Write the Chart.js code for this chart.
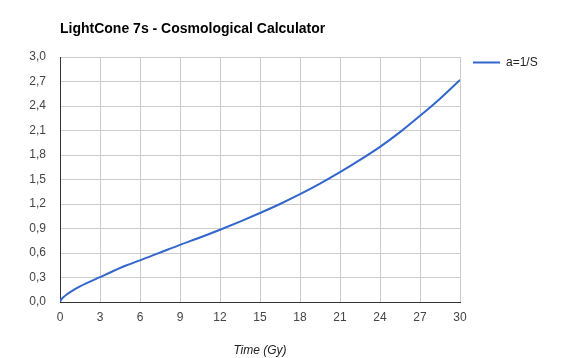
<!DOCTYPE html>
<html>
<head>
<meta charset="utf-8">
<script src="https://cdn.jsdelivr.net/npm/chart.js@4.4.1/dist/chart.umd.min.js"></script>
<style>
  html, body { margin: 0; padding: 0; background: #fff; }
  #wrap { width: 588px; height: 358px; }
</style>
</head>
<body>
<div id="wrap"><canvas id="cosmoChart" width="588" height="358"></canvas></div>
<script>
const chartTitle = "LightCone 7s - Cosmological Calculator";
const seriesLabel = "a=1/S";
const xAxisTitle = "Time (Gy)";

// time in Gy
const timeGy = [0, 0.1, 0.25, 0.5, 1, 1.5, 2, 3, 4, 5, 6, 7.5, 9, 10.5, 12, 13.5, 15, 16.5, 18, 19.5, 21, 22.5, 24, 25.5, 27, 28.5, 30];
// scale factor a = 1/S
const scaleA = [0, 0.03, 0.058, 0.091, 0.145, 0.19, 0.23, 0.305, 0.38, 0.45, 0.51, 0.605, 0.70, 0.79, 0.885, 0.985, 1.09, 1.20, 1.32, 1.45, 1.59, 1.74, 1.90, 2.08, 2.28, 2.49, 2.72];

const xTicks = [0, 3, 6, 9, 12, 15, 18, 21, 24, 27, 30];
const yTicks = [0, 0.3, 0.6, 0.9, 1.2, 1.5, 1.8, 2.1, 2.4, 2.7, 3.0];

const FONT = "Arial, 'Liberation Sans', sans-serif";

// title + legend drawn by hand so they sit where the original has them
const headerPlugin = {
  id: 'header',
  afterDraw: (chart) => {
    const ctx = chart.ctx;
    const ds = chart.data.datasets[0];
    ctx.save();
    ctx.fillStyle = "#000";
    ctx.font = "bold 14px " + FONT;
    ctx.textAlign = "left";
    ctx.textBaseline = "middle";
    ctx.fillText(chartTitle, 60, 29);

    ctx.strokeStyle = ds.borderColor;
    ctx.lineWidth = 2;
    ctx.beginPath();
    ctx.moveTo(473, 62.5);
    ctx.lineTo(500, 62.5);
    ctx.stroke();
    ctx.fillStyle = "#222";
    ctx.font = "12px " + FONT;
    ctx.fillText(ds.label, 506, 63);
    ctx.restore();
  }
};

const chart = new Chart(document.getElementById("cosmoChart"), {
  type: 'line',
  data: {
    datasets: [{
      label: seriesLabel,
      data: timeGy.map((t, i) => ({ x: t, y: scaleA[i] })),
      borderColor: "#3366cc",
      borderWidth: 2,
      pointRadius: 0,
      fill: false,
      cubicInterpolationMode: 'monotone'
    }]
  },
  options: {
    responsive: false,
    animation: false,
    layout: { padding: { left: 0, top: 57, right: 128, bottom: 0 } },
    plugins: {
      legend: { display: false },
      title: { display: false },
      tooltip: { enabled: false }
    },
    scales: {
      x: {
        type: 'linear',
        min: 0,
        max: 30,
        afterBuildTicks: (scale) => { scale.ticks = xTicks.map(v => ({ value: v })); },
        afterFit: (scale) => { scale.height = 56; },
        ticks: {
          color: "#444",
          font: { family: FONT, size: 12 },
          padding: 8,
          maxRotation: 0
        },
        grid: { color: "#cccccc", drawTicks: false },
        border: { color: "#333", width: 1 },
        title: {
          display: true,
          text: xAxisTitle,
          color: "#222",
          font: { family: FONT, size: 12, style: 'italic' },
          padding: { top: 0, bottom: 0 }
        }
      },
      y: {
        min: 0,
        max: 3,
        afterBuildTicks: (scale) => { scale.ticks = yTicks.map(v => ({ value: v })); },
        afterFit: (scale) => { scale.width = 60; },
        ticks: {
          color: "#444",
          font: { family: FONT, size: 12 },
          padding: 14,
          callback: (v) => Number(v).toFixed(1).replace('.', ',')
        },
        grid: { color: "#cccccc", drawTicks: false },
        border: { color: "#333", width: 1 }
      }
    }
  },
  plugins: [headerPlugin]
});
</script>
</body>
</html>
